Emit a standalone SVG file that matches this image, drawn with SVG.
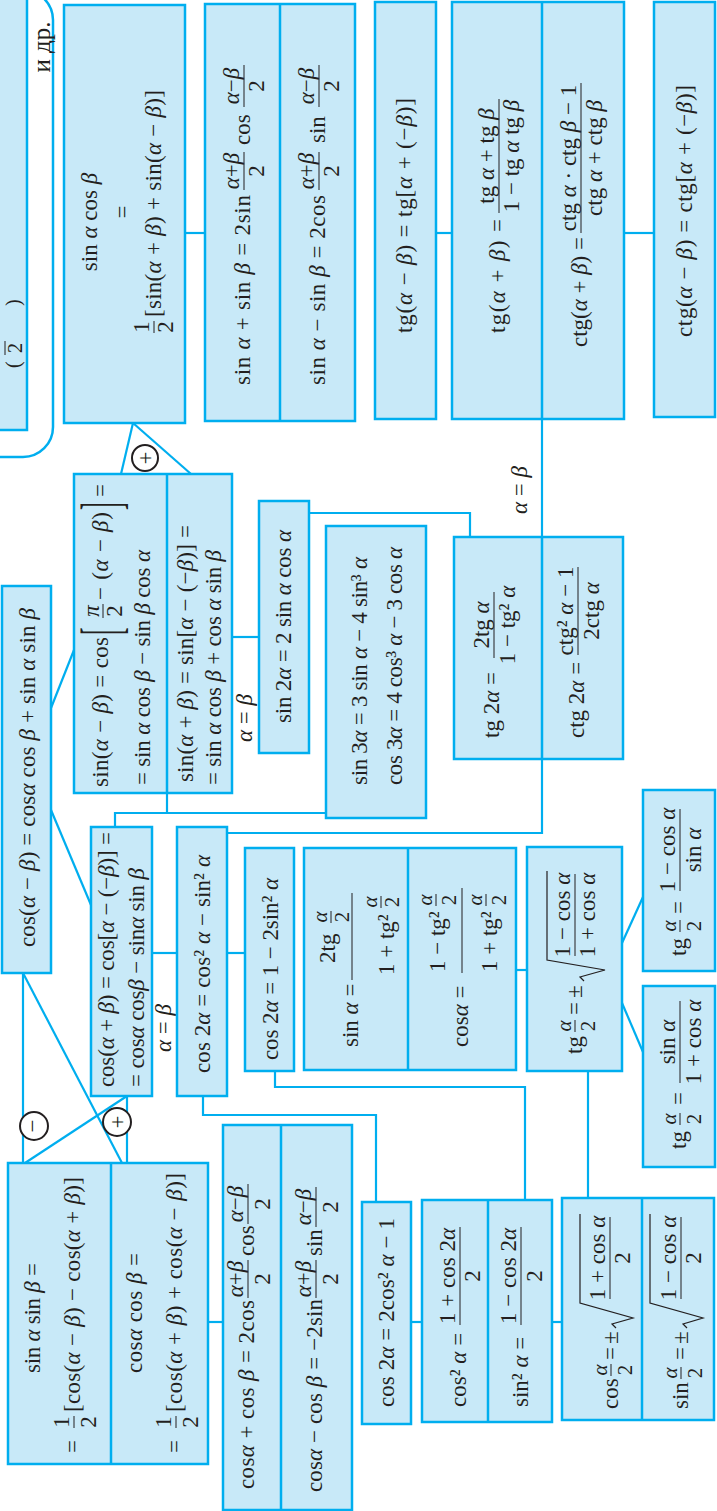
<svg xmlns="http://www.w3.org/2000/svg" width="717" height="1511" viewBox="0 0 717 1511">
<style>
.box{fill:#c8e9f8;stroke:#00aeef;stroke-width:2.5}
.dv{stroke:#00aeef;stroke-width:2.5}
.c line,.c polyline{fill:none;stroke:#00aeef;stroke-width:2.2}
.t{font-family:"Liberation Serif","Times New Roman",serif;font-size:23px;fill:#231f20}
.s{font-size:21px}
.g{font-style:italic}
.m{text-anchor:middle}
.fb{stroke:#231f20;stroke-width:1}
.rad{fill:none;stroke:#231f20;stroke-width:1.2}
.sign{fill:#fff;stroke:#231f20;stroke-width:2}
</style>
<rect width="717" height="1511" fill="#fff"/>

<g id="connectors" class="c">
<line x1="133" y1="423" x2="121" y2="474"/>
<line x1="133" y1="423" x2="191" y2="474"/>
<line x1="185" y1="233" x2="205" y2="233"/>
<line x1="436" y1="233" x2="452" y2="233"/>
<line x1="624" y1="233" x2="654" y2="233"/>
<polyline points="542,419 542,537"/>
<polyline points="542,759 542,833 227,833"/>
<polyline points="309,513 470,513 470,537"/>
<line x1="232" y1="637" x2="259" y2="637"/>
<line x1="51" y1="708" x2="74" y2="650"/>
<line x1="51" y1="810" x2="91" y2="905"/>
<line x1="167" y1="793" x2="167" y2="813"/>
<polyline points="115,827 115,813 326,813"/>
<line x1="152" y1="953" x2="177" y2="953"/>
<line x1="227" y1="953" x2="245" y2="953"/>
<polyline points="203,1096 203,1115 376,1115 376,1202"/>
<polyline points="275,1071 275,1087 525,1087 525,1200"/>
<line x1="516" y1="970" x2="527" y2="970"/>
<line x1="622" y1="943" x2="643" y2="897"/>
<line x1="622" y1="1003" x2="643" y2="1052"/>
<line x1="588" y1="1071" x2="588" y2="1198"/>
<line x1="411" y1="1322" x2="422" y2="1322"/>
<line x1="552" y1="1322" x2="562" y2="1322"/>
<line x1="23" y1="973" x2="23" y2="1163"/>
<line x1="23" y1="973" x2="122" y2="1163"/>
<line x1="127" y1="1096" x2="127" y2="1163"/>
<line x1="127" y1="1096" x2="25" y2="1163"/>
<line x1="208" y1="1322" x2="223" y2="1322"/>
<circle class="sign" cx="145" cy="458" r="13"/>
<text class="t m" transform="translate(145,458) rotate(-90)" y="7.5">+</text>
<circle class="sign" cx="34" cy="1126" r="14"/>
<text class="t m" transform="translate(34,1126) rotate(-90)" y="6">−</text>
<circle class="sign" cx="117" cy="1122" r="14"/>
<text class="t m" transform="translate(117,1122) rotate(-90)" y="7.5">+</text>
<text class="t m" transform="translate(252,718) rotate(-90)"><tspan class="g">α</tspan> = <tspan class="g">β</tspan></text>
<text class="t m" transform="translate(171,1028) rotate(-90)"><tspan class="g">α</tspan> = <tspan class="g">β</tspan></text>
<text class="t m" transform="translate(527,490) rotate(-90)"><tspan class="g">α</tspan> = <tspan class="g">β</tspan></text>
</g>

<g id="n-partial">
<rect x="-60" y="-10" width="113" height="467" rx="30" fill="none" stroke="#00aeef" stroke-width="2.5"/>
<rect class="box" x="-3" y="-3" width="30" height="433"/>
<g transform="translate(-3,430) rotate(-90)">
<text class="t" x="62" y="23" style="font-size:20px">(</text>
<line class="fb" x1="75" x2="89" y1="8" y2="8"/>
<text class="t m" x="82" y="25" style="font-size:20px">2</text>
<text class="t" x="124" y="23" style="font-size:20px">)</text>
</g>
<text class="t m" transform="translate(50,47) rotate(-90)" style="font-size:25px">и др.</text>
</g>

<g id="n-sinacosb" transform="translate(64,423) rotate(-90)">
<rect class="box" width="418" height="121"/>
<text class="t m" x="201" y="33">sin <tspan class="g">α</tspan> cos <tspan class="g">β</tspan></text>
<text class="t m" x="211" y="66">=</text>
<text class="t m" x="96" y="85">1</text><line class="fb" x1="90" x2="102" y1="90" y2="90"/><text class="t m" x="96" y="109">2</text>
<text class="t" x="106" y="97" textLength="227">[sin(<tspan class="g">α</tspan> + <tspan class="g">β</tspan>) + sin(<tspan class="g">α</tspan> − <tspan class="g">β</tspan>)]</text>
</g>

<g id="n-sumsin" transform="translate(205,421) rotate(-90)">
<rect class="box" width="417" height="150"/>
<line class="dv" x1="0" x2="417" y1="75" y2="75"/>
<text class="t" x="36" y="45" textLength="190">sin <tspan class="g">α</tspan> + sin <tspan class="g">β</tspan> = 2sin</text>
<text class="t m" x="250" y="34"><tspan class="g">α</tspan>+<tspan class="g">β</tspan></text><line class="fb" x1="231" x2="269" y1="39" y2="39"/><text class="t m" x="250" y="59">2</text>
<text class="t" x="276" y="45">cos</text>
<text class="t m" x="335" y="34"><tspan class="g">α</tspan>−<tspan class="g">β</tspan></text><line class="fb" x1="314" x2="356" y1="39" y2="39"/><text class="t m" x="335" y="59">2</text>
<text class="t" x="36" y="120" textLength="190">sin <tspan class="g">α</tspan> − sin <tspan class="g">β</tspan> = 2cos</text>
<text class="t m" x="250" y="109"><tspan class="g">α</tspan>+<tspan class="g">β</tspan></text><line class="fb" x1="231" x2="269" y1="114" y2="114"/><text class="t m" x="250" y="134">2</text>
<text class="t" x="278" y="120">sin</text>
<text class="t m" x="335" y="109"><tspan class="g">α</tspan>−<tspan class="g">β</tspan></text><line class="fb" x1="314" x2="356" y1="114" y2="114"/><text class="t m" x="335" y="134">2</text>
</g>

<g id="n-tgdiff" transform="translate(375,419) rotate(-90)">
<rect class="box" width="417" height="61"/>
<text class="t" x="86" y="37" textLength="235">tg(<tspan class="g">α</tspan> − <tspan class="g">β</tspan>) = tg[<tspan class="g">α</tspan> + (−<tspan class="g">β</tspan>)]</text>
</g>

<g id="n-tgsum" transform="translate(452,419) rotate(-90)">
<rect class="box" width="417" height="172"/>
<line class="dv" x1="0" x2="417" y1="90" y2="90"/>
<text class="t" x="86" y="53" textLength="114">tg(<tspan class="g">α</tspan> + <tspan class="g">β</tspan>) =</text>
<text class="t m" x="263" y="42">tg <tspan class="g">α</tspan> + tg <tspan class="g">β</tspan></text><line class="fb" x1="206" x2="320" y1="47" y2="47"/><text class="t m" x="263" y="67">1 − tg <tspan class="g">α</tspan> tg <tspan class="g">β</tspan></text>
<text class="t" x="72" y="135" textLength="110">ctg(<tspan class="g">α</tspan> + <tspan class="g">β</tspan>) =</text>
<text class="t m" x="261" y="124">ctg <tspan class="g">α</tspan> · ctg <tspan class="g">β</tspan> − 1</text><line class="fb" x1="186" x2="336" y1="129" y2="129"/><text class="t m" x="261" y="150">ctg <tspan class="g">α</tspan> + ctg <tspan class="g">β</tspan></text>
</g>

<g id="n-ctgdiff" transform="translate(654,417) rotate(-90)">
<rect class="box" width="415" height="61"/>
<text class="t" x="80" y="38" textLength="252">ctg(<tspan class="g">α</tspan> − <tspan class="g">β</tspan>) = ctg[<tspan class="g">α</tspan> + (−<tspan class="g">β</tspan>)]</text>
</g>

<g id="n-sindiff" transform="translate(74,793) rotate(-90)">
<rect class="box" width="319" height="158"/>
<line class="dv" x1="0" x2="319" y1="93" y2="93"/>
<text class="t" x="6" y="34" textLength="150">sin(<tspan class="g">α</tspan> − <tspan class="g">β</tspan>) = cos</text>
<text class="t" transform="translate(158,31) scale(1,2.5)" y="5.8">[</text>
<text class="t m g" x="182" y="25">π</text><line class="fb" x1="175" x2="189" y1="29" y2="29"/><text class="t m" x="182" y="48">2</text>
<text class="t" x="193" y="34" textLength="88">− (<tspan class="g">α</tspan> − <tspan class="g">β</tspan>)</text>
<text class="t" transform="translate(283,31) scale(1,2.5)" y="5.8">]</text>
<text class="t" x="296" y="34">=</text>
<text class="t" x="8" y="76" textLength="235">= sin <tspan class="g">α</tspan> cos <tspan class="g">β</tspan> − sin <tspan class="g">β</tspan> cos <tspan class="g">α</tspan></text>
<text class="t" x="11" y="119" textLength="257">sin(<tspan class="g">α</tspan> + <tspan class="g">β</tspan>) = sin[<tspan class="g">α</tspan> − (−<tspan class="g">β</tspan>)] =</text>
<text class="t" x="8" y="147" textLength="235">= sin <tspan class="g">α</tspan> cos <tspan class="g">β</tspan> + cos <tspan class="g">α</tspan> sin <tspan class="g">β</tspan></text>
</g>

<g id="n-cosdiff" transform="translate(2,973) rotate(-90)">
<rect class="box" width="387" height="49"/>
<text class="t" x="26" y="33" textLength="339">cos(<tspan class="g">α</tspan> − <tspan class="g">β</tspan>) = cos<tspan class="g">α</tspan> cos <tspan class="g">β</tspan> + sin <tspan class="g">α</tspan> sin <tspan class="g">β</tspan></text>
</g>

<g id="n-cossum" transform="translate(91,1096) rotate(-90)">
<rect class="box" width="269" height="61"/>
<text class="t" x="9" y="23" textLength="255">cos(<tspan class="g">α</tspan> + <tspan class="g">β</tspan>) = cos[<tspan class="g">α</tspan> − (−<tspan class="g">β</tspan>)] =</text>
<text class="t" x="9" y="53" textLength="219">= cos<tspan class="g">α</tspan> cos<tspan class="g">β</tspan> − sin<tspan class="g">α</tspan> sin <tspan class="g">β</tspan></text>
</g>

<g id="n-cos2a" transform="translate(177,1096) rotate(-90)">
<rect class="box" width="269" height="50"/>
<text class="t" x="23" y="33" textLength="218">cos 2<tspan class="g">α</tspan> = cos² <tspan class="g">α</tspan> − sin² <tspan class="g">α</tspan></text>
</g>

<g id="n-cos2a-sin" transform="translate(245,1071) rotate(-90)">
<rect class="box" width="223" height="49"/>
<text class="t" x="11" y="33" textLength="182">cos 2<tspan class="g">α</tspan> = 1 − 2sin² <tspan class="g">α</tspan></text>
</g>

<g id="n-sin2a" transform="translate(259,753) rotate(-90)">
<rect class="box" width="252" height="50"/>
<text class="t" x="30" y="32" textLength="193">sin 2<tspan class="g">α</tspan> = 2 sin <tspan class="g">α</tspan> cos <tspan class="g">α</tspan></text>
</g>

<g id="n-triple" transform="translate(326,818) rotate(-90)">
<rect class="box" width="292" height="100"/>
<text class="t" x="33" y="41" textLength="228">sin 3<tspan class="g">α</tspan> = 3 sin <tspan class="g">α</tspan> − 4 sin³ <tspan class="g">α</tspan></text>
<text class="t" x="33" y="76" textLength="238">cos 3<tspan class="g">α</tspan> = 4 cos³ <tspan class="g">α</tspan> − 3 cos <tspan class="g">α</tspan></text>
</g>

<g id="n-tg2a" transform="translate(454,759) rotate(-90)">
<rect class="box" width="222" height="169"/>
<line class="dv" x1="0" x2="222" y1="88" y2="88"/>
<text class="t" x="21" y="45">tg 2<tspan class="g">α</tspan> =</text>
<text class="t m" x="134" y="35">2tg <tspan class="g">α</tspan></text><line class="fb" x1="101" x2="167" y1="40" y2="40"/><text class="t m" x="134" y="61">1 − tg² <tspan class="g">α</tspan></text>
<text class="t" x="21" y="130">ctg 2<tspan class="g">α</tspan> =</text>
<text class="t m" x="148" y="119">ctg² <tspan class="g">α</tspan> − 1</text><line class="fb" x1="104" x2="192" y1="124" y2="124"/><text class="t m" x="148" y="145">2ctg <tspan class="g">α</tspan></text>
</g>

<g id="n-univ" transform="translate(304,1070) rotate(-90)">
<rect class="box" width="222" height="212"/>
<line class="dv" x1="0" x2="222" y1="104" y2="104"/>
<text class="t" x="23" y="54">sin <tspan class="g">α</tspan> =</text>
<line class="fb" x1="90" x2="177" y1="48" y2="48"/>
<text class="t" x="107" y="31">2tg</text>
<text class="t s m g" x="153" y="23">α</text><line class="fb" x1="147" x2="159" y1="27" y2="27"/><text class="t s m" x="153" y="45">2</text>
<text class="t" x="95" y="90">1 + tg²</text>
<text class="t s m g" x="168" y="73">α</text><line class="fb" x1="162" x2="174" y1="77" y2="77"/><text class="t s m" x="168" y="95">2</text>
<text class="t" x="23" y="164">cos<tspan class="g">α</tspan> =</text>
<line class="fb" x1="97" x2="182" y1="158" y2="158"/>
<text class="t" x="98" y="141">1 − tg²</text>
<text class="t s m g" x="170" y="128">α</text><line class="fb" x1="164" x2="176" y1="132" y2="132"/><text class="t s m" x="170" y="152">2</text>
<text class="t" x="98" y="193">1 + tg²</text>
<text class="t s m g" x="170" y="178">α</text><line class="fb" x1="164" x2="176" y1="182" y2="182"/><text class="t s m" x="170" y="202">2</text>
</g>

<g id="n-tghalf" transform="translate(527,1071) rotate(-90)">
<rect class="box" width="224" height="95"/>
<text class="t" x="17" y="55">tg</text>
<text class="t s m g" x="45" y="44">α</text><line class="fb" x1="39" x2="51" y1="48" y2="48"/><text class="t s m" x="45" y="68">2</text>
<text class="t" x="56" y="55">=</text>
<text class="t" x="73" y="55">±</text>
<polyline class="rad" points="90,57 94,53 101,78 111,20 200,20"/>
<text class="t m" x="156" y="43">1 − cos <tspan class="g">α</tspan></text><line class="fb" x1="115" x2="197" y1="48" y2="48"/><text class="t m" x="156" y="68">1 + cos <tspan class="g">α</tspan></text>
</g>

<g id="n-tghalf-a" transform="translate(643,971) rotate(-90)">
<rect class="box" width="181" height="72"/>
<text class="t" x="15" y="43">tg</text>
<text class="t s m g" x="45" y="33">α</text><line class="fb" x1="39" x2="51" y1="37" y2="37"/><text class="t s m" x="45" y="58">2</text>
<text class="t" x="57" y="43">=</text>
<text class="t m" x="121" y="32">1 − cos <tspan class="g">α</tspan></text><line class="fb" x1="80" x2="162" y1="37" y2="37"/><text class="t m" x="121" y="58">sin <tspan class="g">α</tspan></text>
</g>

<g id="n-tghalf-b" transform="translate(643,1167) rotate(-90)">
<rect class="box" width="181" height="72"/>
<text class="t" x="18" y="43">tg</text>
<text class="t s m g" x="48" y="33">α</text><line class="fb" x1="42" x2="54" y1="37" y2="37"/><text class="t s m" x="48" y="58">2</text>
<text class="t" x="62" y="43">=</text>
<text class="t m" x="125" y="32">sin <tspan class="g">α</tspan></text><line class="fb" x1="84" x2="166" y1="37" y2="37"/><text class="t m" x="125" y="58">1 + cos <tspan class="g">α</tspan></text>
</g>

<g id="n-cos2a-cos" transform="translate(362,1424) rotate(-90)">
<rect class="box" width="222" height="49"/>
<text class="t" x="17" y="32" textLength="189">cos 2<tspan class="g">α</tspan> = 2cos² <tspan class="g">α</tspan> − 1</text>
</g>

<g id="n-squares" transform="translate(422,1422) rotate(-90)">
<rect class="box" width="222" height="130"/>
<line class="dv" x1="0" x2="222" y1="66" y2="66"/>
<text class="t" x="15" y="44">cos² <tspan class="g">α</tspan> =</text>
<text class="t m" x="146" y="33">1 + cos 2<tspan class="g">α</tspan></text><line class="fb" x1="97" x2="195" y1="38" y2="38"/><text class="t m" x="146" y="58">2</text>
<text class="t" x="15" y="106">sin² <tspan class="g">α</tspan> =</text>
<text class="t m" x="146" y="94">1 − cos 2<tspan class="g">α</tspan></text><line class="fb" x1="97" x2="195" y1="99" y2="99"/><text class="t m" x="146" y="120">2</text>
</g>

<g id="n-halfangle" transform="translate(562,1420) rotate(-90)">
<rect class="box" width="222" height="152"/>
<line class="dv" x1="0" x2="222" y1="80" y2="80"/>
<text class="t" x="11" y="56">cos</text>
<text class="t s m g" x="50" y="45">α</text><line class="fb" x1="44" x2="56" y1="49" y2="49"/><text class="t s m" x="50" y="70">2</text>
<text class="t" x="60" y="56">=</text>
<text class="t" x="76" y="56">±</text>
<polyline class="rad" points="92,54 96,50 102,71 117,18 206,18"/>
<text class="t m" x="162" y="43">1 + cos <tspan class="g">α</tspan></text><line class="fb" x1="121" x2="203" y1="48" y2="48"/><text class="t m" x="162" y="68">2</text>
<text class="t" x="11" y="126">sin</text>
<text class="t s m g" x="47" y="115">α</text><line class="fb" x1="41" x2="53" y1="119" y2="119"/><text class="t s m" x="47" y="140">2</text>
<text class="t" x="60" y="126">=</text>
<text class="t" x="76" y="126">±</text>
<polyline class="rad" points="92,125 96,121 102,141 117,88 206,88"/>
<text class="t m" x="162" y="114">1 − cos <tspan class="g">α</tspan></text><line class="fb" x1="121" x2="203" y1="119" y2="119"/><text class="t m" x="162" y="139">2</text>
</g>

<g id="n-products" transform="translate(8,1464) rotate(-90)">
<rect class="box" width="301" height="200"/>
<line class="dv" x1="0" x2="301" y1="103" y2="103"/>
<text class="t" x="91" y="32" textLength="110">sin <tspan class="g">α</tspan> sin <tspan class="g">β</tspan> =</text>
<text class="t" x="11" y="72">=</text>
<text class="t m" x="42" y="61">1</text><line class="fb" x1="36" x2="48" y1="66" y2="66"/><text class="t m" x="42" y="88">2</text>
<text class="t" x="52" y="72" textLength="235">[cos(<tspan class="g">α</tspan> − <tspan class="g">β</tspan>) − cos(<tspan class="g">α</tspan> + <tspan class="g">β</tspan>)]</text>
<text class="t" x="91" y="134" textLength="120">cos<tspan class="g">α</tspan> cos <tspan class="g">β</tspan> =</text>
<text class="t" x="11" y="174">=</text>
<text class="t m" x="42" y="163">1</text><line class="fb" x1="36" x2="48" y1="168" y2="168"/><text class="t m" x="42" y="190">2</text>
<text class="t" x="52" y="174" textLength="239">[cos(<tspan class="g">α</tspan> + <tspan class="g">β</tspan>) + cos(<tspan class="g">α</tspan> − <tspan class="g">β</tspan>)]</text>
</g>

<g id="n-sumcos" transform="translate(223,1510) rotate(-90)">
<rect class="box" width="385" height="129"/>
<line class="dv" x1="0" x2="385" y1="58" y2="58"/>
<text class="t" x="21" y="31" textLength="189">cos<tspan class="g">α</tspan> + cos <tspan class="g">β</tspan> = 2cos</text>
<text class="t m" x="231" y="20"><tspan class="g">α</tspan>+<tspan class="g">β</tspan></text><line class="fb" x1="212" x2="250" y1="25" y2="25"/><text class="t m" x="231" y="47">2</text>
<text class="t" x="254" y="31">cos</text>
<text class="t m" x="306" y="20"><tspan class="g">α</tspan>−<tspan class="g">β</tspan></text><line class="fb" x1="286" x2="326" y1="25" y2="25"/><text class="t m" x="306" y="47">2</text>
<text class="t" x="18" y="99" textLength="193">cos<tspan class="g">α</tspan> − cos <tspan class="g">β</tspan> = −2sin</text>
<text class="t m" x="231" y="88"><tspan class="g">α</tspan>+<tspan class="g">β</tspan></text><line class="fb" x1="212" x2="250" y1="93" y2="93"/><text class="t m" x="231" y="115">2</text>
<text class="t" x="254" y="99">sin</text>
<text class="t m" x="303" y="88"><tspan class="g">α</tspan>−<tspan class="g">β</tspan></text><line class="fb" x1="283" x2="323" y1="93" y2="93"/><text class="t m" x="303" y="115">2</text>
</g>
</svg>
